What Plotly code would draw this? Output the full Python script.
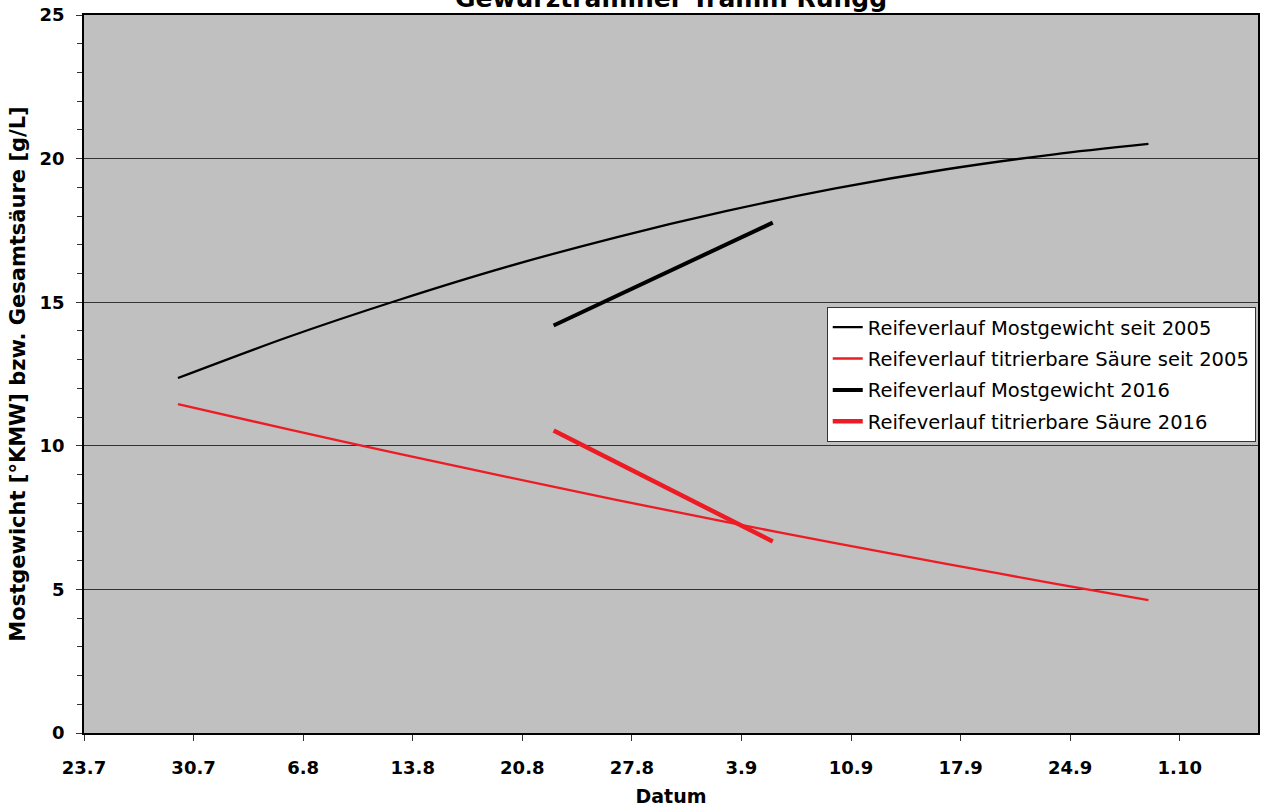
import plotly.graph_objects as go

# Data
dates_avg = ["2016-07-29", "2016-08-05", "2016-08-12", "2016-08-19", "2016-08-26",
             "2016-09-02", "2016-09-09", "2016-09-16", "2016-09-23", "2016-09-29"]
most_avg = [12.36, 13.78, 15.06, 16.23, 17.26, 18.17, 18.96, 19.62, 20.15, 20.51]
saeure_avg = [11.45, 10.58, 9.74, 8.92, 8.12, 7.35, 6.61, 5.90, 5.20, 4.63]

dates_2016 = ["2016-08-22", "2016-09-05"]
most_2016 = [14.19, 17.77]
saeure_2016 = [10.53, 6.67]

names = ["Reifeverlauf Mostgewicht seit 2005",
         "Reifeverlauf titrierbare Säure seit 2005",
         "Reifeverlauf Mostgewicht 2016",
         "Reifeverlauf titrierbare Säure 2016"]
title_text = "Gewürztraminer Tramin Rungg"
x_title = "Datum"
y_title = "Mostgewicht [°KMW] bzw. Gesamtsäure [g/L]"

RED = "#ED1C24"
FONT = "DejaVu Sans"

fig = go.Figure()
fig.add_trace(go.Scatter(x=dates_avg, y=most_avg, mode="lines", name=names[0], legendgroup="a",
                         line=dict(color="black", width=2.3, shape="spline", smoothing=0.8)))
fig.add_trace(go.Scatter(x=dates_avg, y=saeure_avg, mode="lines", name=names[1], legendgroup="b",
                         line=dict(color=RED, width=2.3, shape="spline", smoothing=0.8)))
fig.add_trace(go.Scatter(x=dates_2016, y=most_2016, mode="lines", name=names[2], legendgroup="c",
                         line=dict(color="black", width=4)))
fig.add_trace(go.Scatter(x=dates_2016, y=saeure_2016, mode="lines", name=names[3], legendgroup="d",
                         line=dict(color=RED, width=4.5)))

fig.update_layout(
    width=1261, height=809,
    margin=dict(l=84, r=1, t=15, b=76),
    paper_bgcolor="white",
    plot_bgcolor="#C0C0C0",
    font=dict(family=FONT, color="black"),
    legend=dict(x=(828 - 84) / 1176, y=(733 - 307) / 718, xanchor="left", yanchor="top",
                bgcolor="white", bordercolor="#333333", borderwidth=1,
                font=dict(size=19.5, family=FONT, color="black"),
                tracegroupgap=3, itemwidth=30),
    showlegend=True,
    annotations=[dict(text="<b>" + title_text + "</b>", xref="paper", yref="paper",
                      x=0.5, y=1.0, xanchor="center", yanchor="bottom", showarrow=False,
                      font=dict(size=25, family=FONT, color="black"))],
)

fig.update_xaxes(
    type="date",
    range=["2016-07-23", "2016-10-06"],
    tick0="2016-07-23", dtick=7 * 86400000,
    tickformat="%-d.%-m",
    tickprefix="<b>", ticksuffix="</b>",
    ticks="outside", ticklen=6, tickcolor="#333333",
    ticklabelstandoff=12,
    tickfont=dict(size=18, family=FONT, color="black"),
    showgrid=False, zeroline=False,
    showline=True, linecolor="black", linewidth=1.5, mirror=True,
    title=dict(text="<b>" + x_title + "</b>", font=dict(size=19, family=FONT, color="black"), standoff=12),
)

fig.update_yaxes(
    range=[0, 25], dtick=5, tick0=0,
    tickprefix="<b>", ticksuffix="</b>",
    ticks="outside", ticklen=6, tickcolor="#333333",
    ticklabelstandoff=8,
    minor=dict(dtick=1, ticks="outside", ticklen=5, tickcolor="#333333", showgrid=False),
    tickfont=dict(size=18, family=FONT, color="black"),
    showgrid=True, gridcolor="#333333", gridwidth=1,
    zeroline=False,
    showline=True, linecolor="black", linewidth=1.5, mirror=True,
    title=dict(text="<b>" + y_title + "</b>",
               font=dict(size=21, family=FONT, color="black"), standoff=8),
)

fig.write_html("out.html", config={"displayModeBar": False},
               post_script="document.body.style.margin='0';document.body.style.overflow='hidden';")
